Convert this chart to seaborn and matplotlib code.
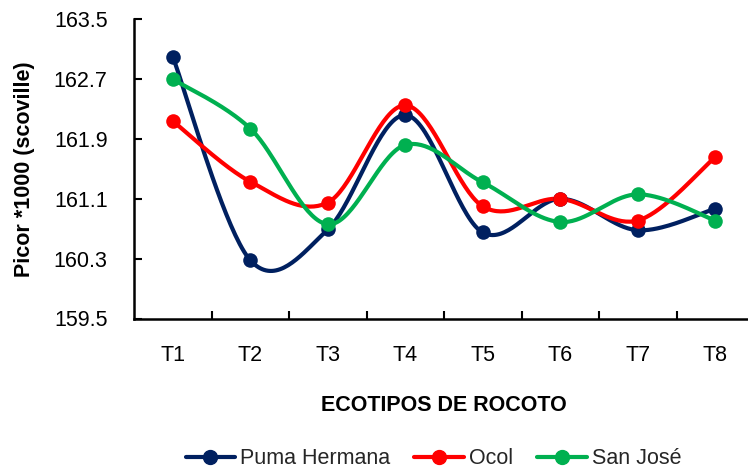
import numpy as np
import pandas as pd
import matplotlib
matplotlib.use("Agg")
import matplotlib.pyplot as plt
from matplotlib.lines import Line2D
from matplotlib.ticker import FixedLocator
import seaborn as sns

categories = ["T1", "T2", "T3", "T4", "T5", "T6", "T7", "T8"]
puma_hermana = [163.00, 160.28, 160.69, 162.22, 160.65, 161.10, 160.68, 160.97]
ocol = [162.14, 161.33, 161.05, 162.35, 161.00, 161.10, 160.81, 161.66]
san_jose = [162.70, 162.04, 160.76, 161.82, 161.32, 160.79, 161.16, 160.81]
series_names = ["Puma Hermana", "Ocol", "San José"]
colors = ["#002060", "#FF0000", "#00B050"]
y_ticks = [159.5, 160.3, 161.1, 161.9, 162.7, 163.5]

sns.set_theme(style="white")
plt.rcParams["font.family"] = ["Liberation Sans", "DejaVu Sans"]


def smooth(values, n=40):
    """Catmull-Rom (Excel-like) smoothing through the points."""
    p = np.column_stack([np.arange(len(values), dtype=float), np.asarray(values, float)])
    ext = np.vstack([p[0], p, p[-1]])
    out = []
    t = np.linspace(0, 1, n)
    for i in range(1, len(ext) - 2):
        p0, p1, p2, p3 = ext[i - 1], ext[i], ext[i + 1], ext[i + 2]
        c1 = p1 + (p2 - p0) / 6.0
        c2 = p2 - (p3 - p1) / 6.0
        seg = ((1 - t) ** 3)[:, None] * p1 + (3 * (1 - t) ** 2 * t)[:, None] * c1 \
            + (3 * (1 - t) * t ** 2)[:, None] * c2 + (t ** 3)[:, None] * p2
        out.append(seg if i == 1 else seg[1:])
    return np.vstack(out)


fig = plt.figure(figsize=(7.48, 4.70), dpi=100)
ax = fig.add_axes([134 / 748, 1 - 318.5 / 470, 620 / 748, 299.2 / 470])

for name, vals, col in zip(series_names, [puma_hermana, ocol, san_jose], colors):
    curve = smooth(vals)
    sns.lineplot(x=curve[:, 0], y=curve[:, 1], ax=ax, color=col, linewidth=3.0,
                 sort=False, estimator=None, zorder=2)
    sns.scatterplot(x=np.arange(len(vals)), y=vals, ax=ax, color=col, s=110,
                    edgecolor=col, linewidth=0, zorder=3)

ax.set_xlim(-0.5, 7.5)
ax.set_ylim(159.5, 163.5)
ax.set_xticks(range(len(categories)))
ax.set_xticklabels(categories)
ax.xaxis.set_minor_locator(FixedLocator([k + 0.5 for k in range(8)]))
ax.set_yticks(y_ticks)
ax.set_yticklabels([f"{v:.1f}" for v in y_ticks])

ax.tick_params(axis="x", which="major", length=0, pad=19, labelsize=15.5, colors="black")
ax.tick_params(axis="x", which="minor", bottom=True, direction="in", length=6, width=1.5, color="black")
ax.tick_params(axis="y", which="major", left=True, direction="in", length=6, width=1.5,
               pad=19, labelsize=15.5, colors="black")

for s in ["top", "right"]:
    ax.spines[s].set_visible(False)
for s in ["left", "bottom"]:
    ax.spines[s].set_color("black")
    ax.spines[s].set_linewidth(1.8)

ax.set_ylabel("Picor *1000 (scoville)", fontsize=15.5, fontweight="bold", color="black")
ax.yaxis.set_label_coords(-0.16, 0.5)
ax.set_xlabel("ECOTIPOS DE ROCOTO", fontsize=15.5, fontweight="bold", color="black")
ax.xaxis.set_label_coords(0.5, -0.255)

handles = [Line2D([0], [0], color=c, linewidth=3, marker="o", markersize=10) for c in colors]
fig.legend(handles, series_names, loc="center", bbox_to_anchor=(433.5 / 748, 1 - 459 / 470),
           ncol=3, frameon=False, fontsize=15.5, handlelength=2.3, handletextpad=0.25,
           columnspacing=1.1)

fig.savefig("out.png", dpi=100)
